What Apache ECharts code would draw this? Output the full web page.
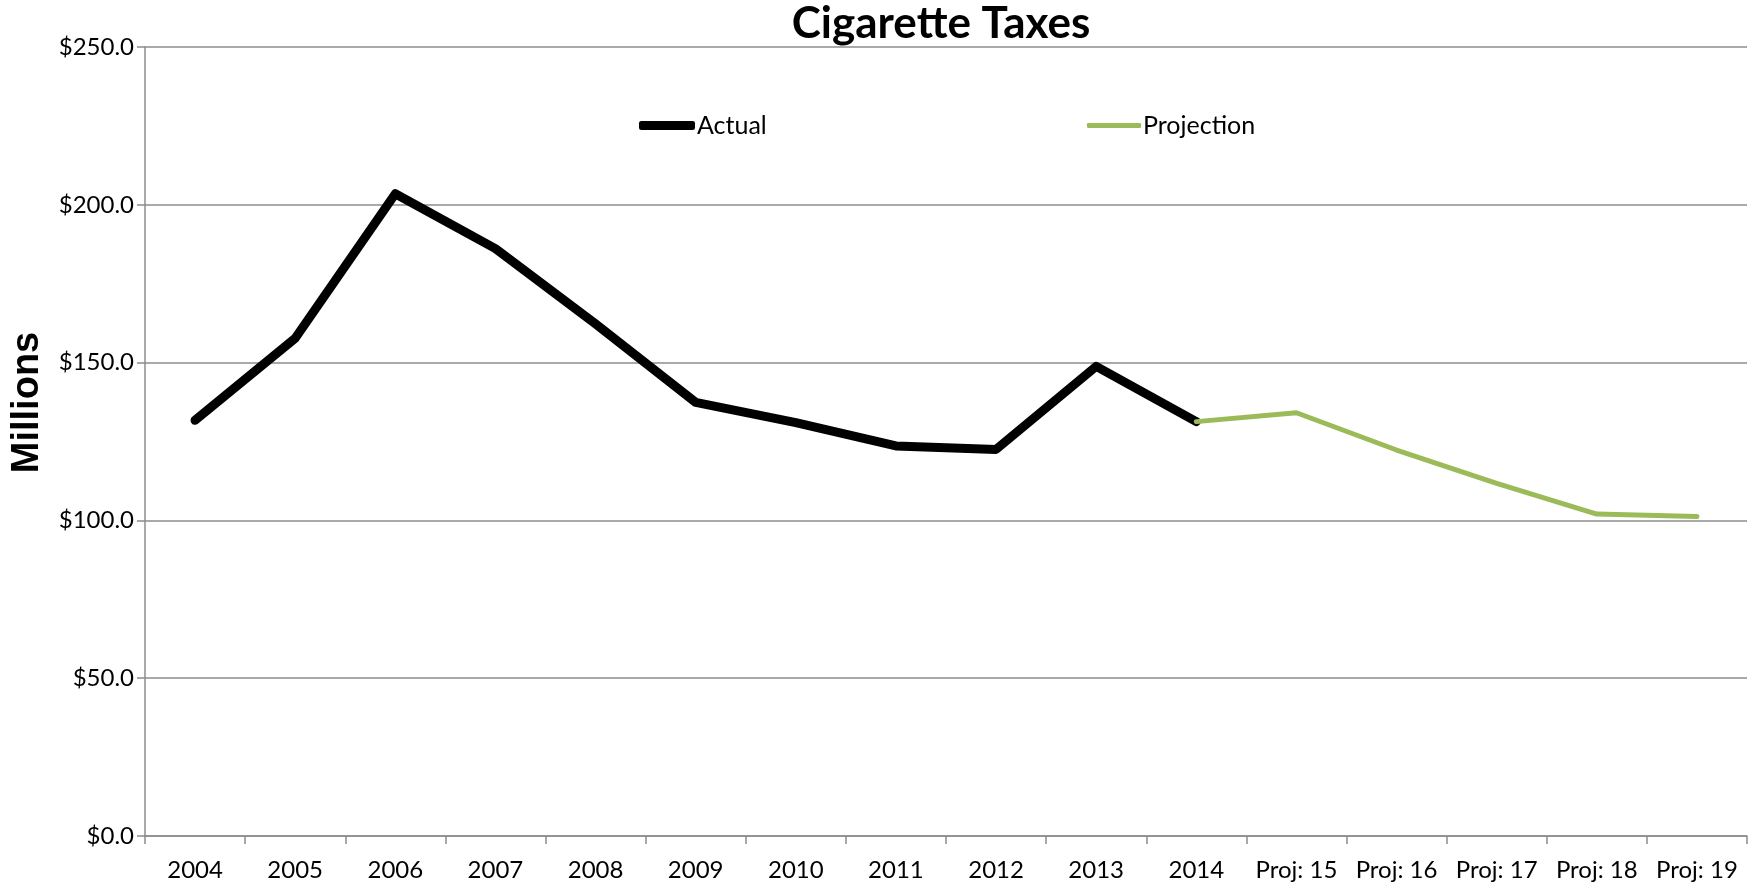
<!DOCTYPE html>
<html>
<head>
<meta charset="utf-8">
<script src="https://cdn.jsdelivr.net/npm/echarts@6/dist/echarts.min.js"></script>
<style>
  html, body { margin: 0; padding: 0; background: #fff; }
  #chart { width: 1758px; height: 889px; }
</style>
</head>
<body>
<div id="chart"></div>
<script>
// categories on the x axis
var years = ['2004', '2005', '2006', '2007', '2008', '2009', '2010', '2011', '2012', '2013', '2014',
             'Proj: 15', 'Proj: 16', 'Proj: 17', 'Proj: 18', 'Proj: 19'];
// actual cigarette tax revenue, millions
var actual = [131.7, 157.7, 203.5, 186.1, 162.3, 137.4, 131.0, 123.6, 122.5, 148.8, 131.3,
              null, null, null, null, null];
// projection, starts at the last actual year
var projection = [null, null, null, null, null, null, null, null, null, null, 131.3,
                  134.1, 122.3, 111.7, 102.0, 101.2];

var myChart = echarts.init(document.getElementById('chart'));

var gray = '#8c8c8c';
var font = 'Lato';
var legendText = { fontFamily: font, fontSize: 25, color: '#000', padding: [0, 0, 0, -3] };

var option = {
    animation: false,
    title: {
        text: 'Cigarette Taxes',
        left: 936,
        top: -3,
        textAlign: 'center',
        textStyle: { fontFamily: font, fontWeight: 'bold', fontSize: 44, color: '#000' }
    },
    // two legends so each icon can have its own thickness
    legend: [
        {
            left: 634,
            top: 108,
            icon: 'roundRect',
            itemWidth: 56,
            itemHeight: 9,
            textStyle: legendText,
            data: ['Actual']
        },
        {
            left: 1082,
            top: 108,
            icon: 'roundRect',
            itemWidth: 54,
            itemHeight: 5,
            textStyle: legendText,
            data: ['Projection']
        }
    ],
    grid: { left: 145, right: 11, top: 47, bottom: 53, outerBoundsMode: 'none' },
    xAxis: {
        type: 'category',
        data: years,
        boundaryGap: true,
        axisLine: { lineStyle: { color: gray, width: 1.5 } },
        axisTick: { show: true, length: 8, lineStyle: { color: gray, width: 1.5 } },
        axisLabel: { interval: 0, margin: 22, fontFamily: font, fontSize: 24, color: '#000' },
        splitLine: { show: false }
    },
    yAxis: {
        type: 'value',
        min: 0,
        max: 250,
        interval: 50,
        name: 'Millions',
        nameLocation: 'middle',
        nameRotate: 90,
        nameGap: 98,
        nameTextStyle: {
            fontFamily: 'Liberation Sans', fontWeight: 'bold', fontSize: 38, color: '#000',
            padding: [0, 0, 0, 78]
        },
        axisLine: { show: true, lineStyle: { color: gray, width: 1.5 } },
        axisTick: { show: true, length: 8, lineStyle: { color: gray, width: 1.5 } },
        axisLabel: {
            margin: 11, fontFamily: font, fontSize: 24, color: '#000',
            formatter: function (v) { return '$' + v.toFixed(1); }
        },
        splitLine: { lineStyle: { color: gray, width: 1.5 } }
    },
    series: [
        {
            name: 'Actual',
            type: 'line',
            data: actual,
            symbol: 'none',
            color: '#000000',
            lineStyle: { color: '#000000', width: 9, cap: 'round', join: 'round' }
        },
        {
            name: 'Projection',
            type: 'line',
            data: projection,
            symbol: 'none',
            color: '#9BBB59',
            lineStyle: { color: '#9BBB59', width: 5, cap: 'round', join: 'round' }
        }
    ]
};

myChart.setOption(option);
</script>
</body>
</html>
